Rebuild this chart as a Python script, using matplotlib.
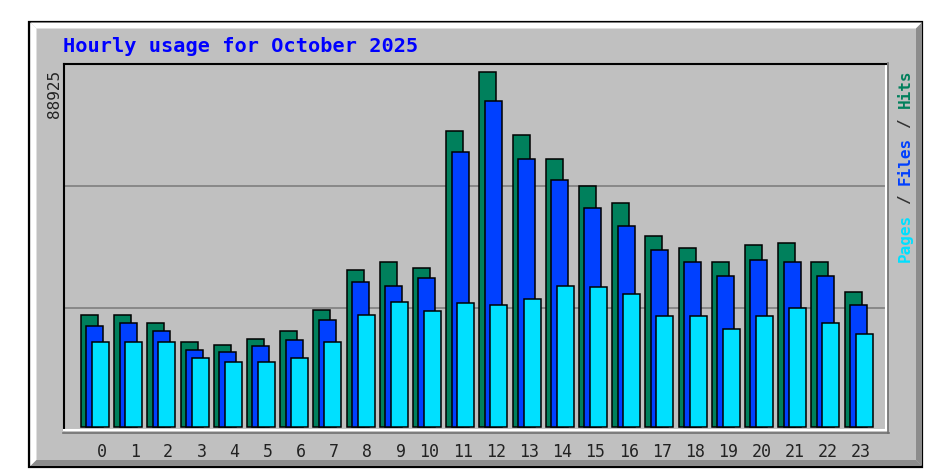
import matplotlib
matplotlib.use('Agg')
import matplotlib.pyplot as plt
from matplotlib.patches import Rectangle, Polygon
import numpy as np

# Dados
horas = list(range(24))
hits = [28050, 28050, 26050, 21300, 20550, 22050, 24050, 29300, 39330, 41330, 39830, 74150,
        88925, 73150, 67130, 60370, 56110, 47850, 44840, 41330, 45590, 46090, 41330, 33820]
files = [25300, 26050, 24050, 19290, 18790, 20290, 21790, 26800, 36320, 35320, 37330, 68890,
         81660, 67130, 61870, 54860, 50350, 44340, 41330, 37830, 41830, 41330, 37830, 30560]
pages = [21290, 21290, 21290, 17290, 16280, 16280, 17290, 21290, 28060, 31310, 29060, 31060,
         30560, 32060, 35320, 35070, 33320, 27810, 27810, 24550, 27810, 29810, 26050, 23300]
titulo = 'Hourly usage for October 2025'
maximo = 88925

cor_hits = '#00805c'
cor_files = '#0040ff'
cor_pages = '#00e0ff'
cinza = '#c0c0c0'

W, H = 941, 477
fig = plt.figure(figsize=(W / 100, H / 100), dpi=100, facecolor='white')

# fundo / moldura em pixels
bg = fig.add_axes([0, 0, 1, 1])
bg.set_xlim(0, W)
bg.set_ylim(H, 0)
bg.axis('off')
bg.add_patch(Rectangle((29.5, 22.5), 893, 445, facecolor=cinza, edgecolor='black', lw=1.6))
bg.add_patch(Polygon([(30.5, 23.5), (922, 23.5), (916, 29.5), (36.5, 29.5)], closed=True,
                     facecolor='white', edgecolor='none'))
bg.add_patch(Polygon([(30.5, 23.5), (36.5, 29.5), (36.5, 461), (30.5, 467)], closed=True,
                     facecolor='white', edgecolor='none'))
bg.add_patch(Polygon([(30.5, 467), (36.5, 461), (916, 461), (922, 467)], closed=True,
                     facecolor='#8c8c8c', edgecolor='none'))
bg.add_patch(Polygon([(922, 23.5), (916, 29.5), (916, 461), (922, 467)], closed=True,
                     facecolor='#8c8c8c', edgecolor='none'))
bg.plot([63, 889], [433.5, 433.5], color='#707070', lw=1.2)
bg.plot([888.5, 888.5], [64, 434], color='#707070', lw=1.2)

# área do gráfico
esq, dir_, topo, base = 64, 886, 65, 431
ax = fig.add_axes([esq / W, 1 - base / H, (dir_ - esq) / W, (base - topo) / H])
ax.set_facecolor(cinza)

px = maximo / 355.0          # valor por pixel
ax.set_ylim(-(base - 428) * px, (428 - topo) * px)
passo = 33.2                 # pixels por hora
ax.set_xlim(-0.768, -0.768 + (dir_ - esq) / passo)

x = np.array(horas)
larg = 17 / passo
desl = 5.5 / passo
ax.bar(x, hits, width=larg, color=cor_hits, edgecolor='black', lw=1.1, zorder=3)
ax.bar(x + desl, files, width=larg, color=cor_files, edgecolor='black', lw=1.1, zorder=3)
ax.bar(x + 2 * desl, pages, width=larg, color=cor_pages, edgecolor='black', lw=1.1, zorder=3)

y0, y1 = ax.get_ylim()
for f in (1 / 3, 2 / 3):
    ax.axhline(y0 + (y1 - y0) * f, color='#888888', lw=1.4, zorder=1)

rotulos = [str(h) for h in horas]
ax.set_xticks([h + (0.37 if len(r) == 1 else 0.24) for h, r in zip(horas, rotulos)])
ax.set_xticklabels(rotulos, fontfamily='DejaVu Sans Mono', fontsize=12, color='#222222')
ax.tick_params(axis='x', length=0, pad=9)
ax.set_yticks([])
for lado in ('top', 'left'):
    ax.spines[lado].set_color('black')
    ax.spines[lado].set_linewidth(1.5)
for lado in ('bottom', 'right'):
    ax.spines[lado].set_color('white')
    ax.spines[lado].set_linewidth(1.5)

# textos
fig.text(63 / W, 1 - 47 / H, titulo, ha='left', va='center', fontsize=14.6,
         fontweight='bold', fontfamily='DejaVu Sans Mono', color='#0000ff')
fig.text(55 / W, 1 - 70 / H, str(maximo), rotation=90, ha='center', va='top',
         fontsize=11.5, fontfamily='DejaVu Sans Mono', color='#222222')

partes = [('Pages', cor_pages, 0), ('/', '#333333', 6), ('Files', cor_files, 8),
          ('/', '#333333', 14), ('Hits', cor_hits, 16)]
for txt, cor, k in partes:
    fig.text(905 / W, 1 - (262 - k * 9.6) / H, txt, rotation=90, ha='center', va='bottom',
             fontsize=11.5, fontweight='bold', fontfamily='DejaVu Sans Mono', color=cor)

fig.savefig('out.png', dpi=100, facecolor='white')
